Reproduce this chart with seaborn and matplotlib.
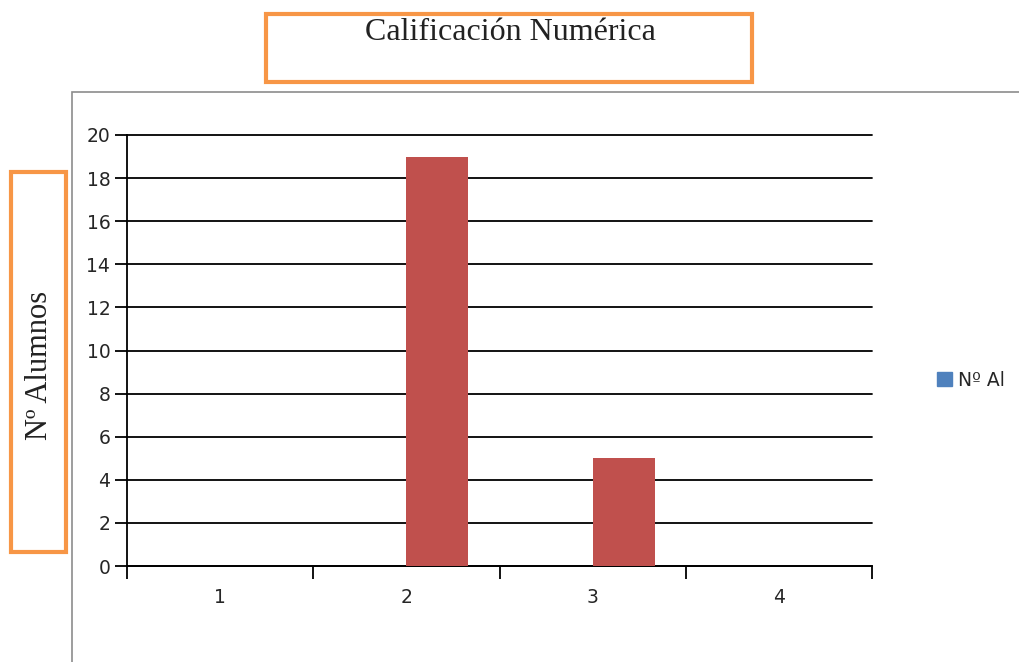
import pandas as pd
import matplotlib.pyplot as plt
import matplotlib.patches as mpatches
import seaborn as sns

# data
categorias = ['1', '2', '3', '4']
n_al = [0, 0, 0, 0]          # serie de la leyenda (sin barras visibles)
alumnos = [0, 19, 5, 0]      # barras rojas
y_ticks = list(range(0, 21, 2))

df = pd.DataFrame({
    'cat': categorias * 2,
    'valor': n_al + alumnos,
    'serie': ['Nº Al'] * 4 + ['Alumnos'] * 4,
})

sns.set_style('white')
plt.rcParams['font.family'] = ['DejaVu Sans']

fig = plt.figure(figsize=(10.19, 6.62), dpi=100)
W, H = 1019, 662

# marco exterior gris del gráfico
fig.add_artist(mpatches.Rectangle((72 / W, -0.1), 1.2, 1.1 - 92 / H, transform=fig.transFigure,
                                  fill=False, edgecolor='#8c8c8c', linewidth=1.2))

ax = fig.add_axes([127 / W, 1 - 566 / H, 745 / W, 431 / H])
sns.barplot(data=df, x='cat', y='valor', hue='serie', order=categorias,
            hue_order=['Nº Al', 'Alumnos'], palette=['#4F81BD', '#C0504D'],
            width=0.667, gap=0, saturation=1, legend=False, linewidth=0,
            ax=ax, zorder=3)

ax.set_xlim(-0.5, 3.5)
ax.set_ylim(0, 20)
ax.set_yticks(y_ticks)
ax.grid(axis='y', color='black', linewidth=1.3, zorder=1)
for line in ax.get_ygridlines():
    line.set_clip_on(False)
ax.set_xlabel('')
ax.set_ylabel('')
for s in ['top', 'right']:
    ax.spines[s].set_visible(False)
for s in ['left', 'bottom']:
    ax.spines[s].set_color('black')
    ax.spines[s].set_linewidth(1.3)

ax.set_xticks([i - 0.5 for i in range(5)], minor=True)
ax.tick_params(axis='x', which='major', bottom=True, length=0, pad=16, labelsize=13.5)
ax.tick_params(axis='x', which='minor', bottom=True, length=9, width=1.3, color='black',
               direction='out')
ax.tick_params(axis='y', left=True, length=9, width=1.3, color='black', direction='out',
               labelsize=13.5, pad=3)

# leyenda con solo la primera serie
handle = mpatches.Patch(color='#4F81BD', label='Nº Al')
fig.legend(handles=[handle], loc='center left', bbox_to_anchor=(920 / W, 1 - 380 / H),
           frameon=False, fontsize=13.5, handlelength=0.8, handleheight=0.8, handletextpad=0.3)

# título en recuadro naranja
fig.add_artist(mpatches.Rectangle((266 / W, 1 - 82 / H), 486 / W, 68 / H, transform=fig.transFigure,
                                  fill=False, edgecolor='#F79646', linewidth=3))
fig.text(510 / W, 1 - 33 / H, 'Calificación Numérica', ha='center', va='center',
         family='Liberation Serif', fontsize=23, color='#222222')

# etiqueta del eje Y en recuadro naranja
fig.add_artist(mpatches.Rectangle((11 / W, 1 - 552 / H), 55 / W, 380 / H, transform=fig.transFigure,
                                  fill=False, edgecolor='#F79646', linewidth=3))
fig.text(40 / W, 1 - 365 / H, 'Nº Alumnos', ha='center', va='center', rotation=90,
         family='Liberation Serif', fontsize=22, color='#222222')

fig.savefig('out.png', dpi=100)
